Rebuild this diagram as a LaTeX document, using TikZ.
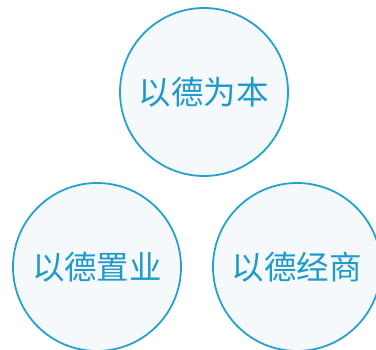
\documentclass[tikz,border=0pt]{standalone}
\usepackage{fontspec}
\newfontfamily\cjk{Noto Sans CJK SC}
\definecolor{ringblue}{RGB}{38,160,204}
\definecolor{textblue}{RGB}{30,155,202}
\definecolor{paleback}{RGB}{245,249,251}
\begin{document}
\begin{tikzpicture}[x=1pt, y=-1pt,
    ring/.style={circle, draw=ringblue, line width=1.8pt, fill=paleback,
      minimum size=168pt, inner sep=0pt, text=textblue, font=\cjk\fontsize{32.5}{32.5}\selectfont}]
      \useasboundingbox (0,0) rectangle (376,350);
      \clip (0,0) rectangle (376,350);

      \node[ring] (ben) at (204, 92) {以德为本};
      \node[ring] (zhiye) at (97, 267) {以德置业};
      \node[ring] (jingshang) at (297, 267) {以德经商};
    \end{tikzpicture}
\end{document}
